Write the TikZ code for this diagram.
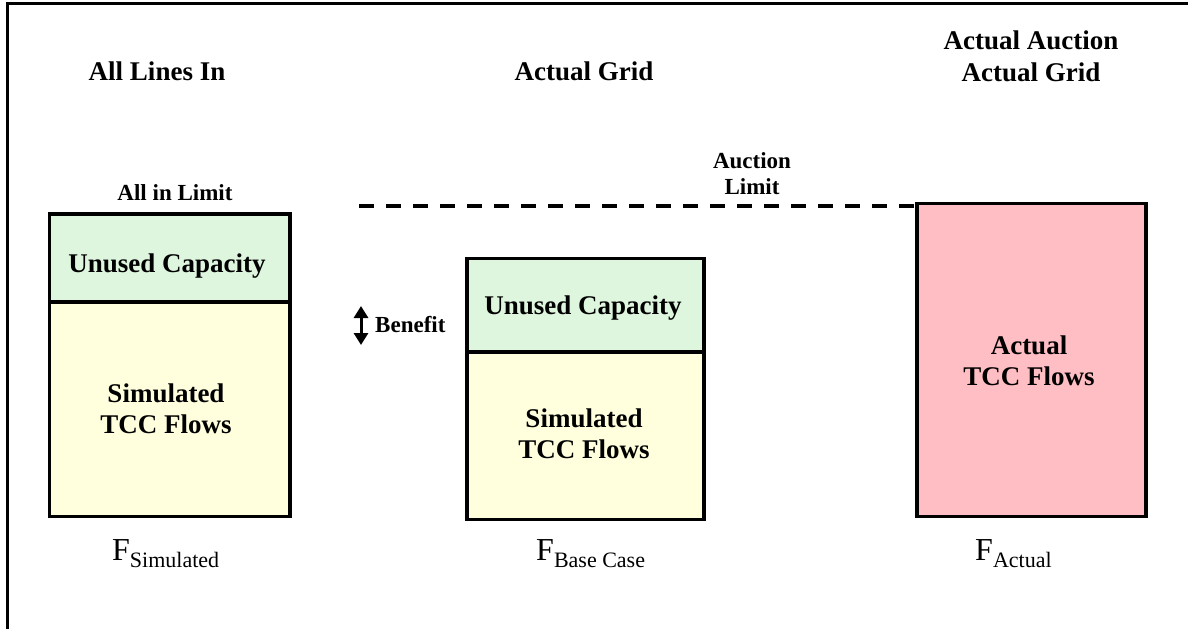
\documentclass[tikz,border=0pt]{standalone}
\usepackage{fontspec}
\setmainfont{Liberation Serif}
\usetikzlibrary{arrows.meta}
\definecolor{cgreen}{RGB}{222,246,222}
\definecolor{cyellow}{RGB}{255,255,222}
\definecolor{cpink}{RGB}{255,190,195}
\begin{document}
\begin{tikzpicture}[x=1pt,y=-1pt,
  part/.style={draw=black, line width=3.5pt, inner sep=0pt, anchor=north west},
  hd/.style={inner sep=0pt, anchor=base, font=\fontsize{27}{32}\selectfont\bfseries},
  sm/.style={inner sep=0pt, anchor=base, font=\fontsize{23}{26}\selectfont\bfseries},
  flab/.style={inner sep=0pt, anchor=base west, font=\fontsize{32}{36}\selectfont}
]
\useasboundingbox (0,0) rectangle (1188,629);
% frame
\coordinate (fbl) at (7.5,629);
\coordinate (ftl) at (7.5,3.5);
\coordinate (ftr) at (1188,3.5);
\draw[line width=3pt] (fbl) -- (ftl) -- (ftr);

% headings
\node[hd] (h1) at (157,80) {All Lines In};
\node[hd] (h2) at (584,80) {Actual Grid};
\node[hd] (h3a) at (1031,49) {Actual Auction};
\node[hd] (h3b) at (1031,81) {Actual Grid};

% box 1
\node[part, fill=cyellow, minimum width=240.5pt, minimum height=214.5pt] (s1) at (47.5,300) {};
\node[part, fill=cgreen, minimum width=240.5pt, minimum height=88pt] (u1) at (47.5,212) {};
\node[sm] (lim1) at (175,200) {All in Limit};
\node[hd] (u1t) at (167,272) {Unused Capacity};
\node[hd] (s1ta) at (166,402) {Simulated};
\node[hd] (s1tb) at (166,433) {TCC Flows};

% box 2
\node[part, fill=cyellow, minimum width=237pt, minimum height=167.5pt] (s2) at (465,350) {};
\node[part, fill=cgreen, minimum width=237pt, minimum height=93.5pt] (u2) at (465,256.5) {};
\node[hd] (u2t) at (583,314) {Unused Capacity};
\node[hd] (s2ta) at (584,427) {Simulated};
\node[hd] (s2tb) at (584,458) {TCC Flows};

% box 3
\node[part, fill=cpink, minimum width=229pt, minimum height=313pt] (a3) at (915,201.5) {};
\node[hd] (a3ta) at (1029,354) {Actual};
\node[hd] (a3tb) at (1029,385) {TCC Flows};

% auction limit
\coordinate (dstart) at (359,206);
\draw[line width=4pt, dash pattern=on 15pt off 12pt] (dstart) -- (a3.west |- dstart);
\node[sm] (al1) at (752,168) {Auction};
\node[sm] (al2) at (752,194) {Limit};

% benefit
\coordinate (bt) at (361,306);
\coordinate (bb) at (361,345);
\draw[line width=3pt, {Triangle[width=14pt,length=12pt]}-{Triangle[width=14pt,length=12pt]}] (bt) -- (bb);
\node[sm, anchor=base west] (ben) at (375,332) {Benefit};

% F labels
\node[flab] (f1) at (112,560) {F\raisebox{-7pt}{\fontsize{22}{24}\selectfont Simulated}};
\node[flab] (f2) at (536,560) {F\raisebox{-7pt}{\fontsize{22}{24}\selectfont Base Case}};
\node[flab] (f3) at (975,560) {F\raisebox{-7pt}{\fontsize{22}{24}\selectfont Actual}};
\end{tikzpicture}
\end{document}
